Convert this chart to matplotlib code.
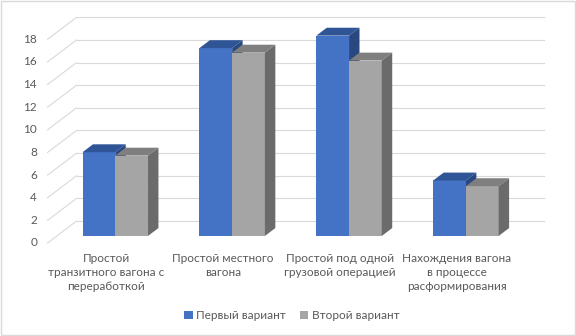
import numpy as np
import matplotlib.pyplot as plt
from matplotlib.patches import Polygon, Rectangle, Patch

categories = ['Простой\nтранзитного вагона с\nпереработкой',
              'Простой местного\nвагона',
              'Простой под одной\nгрузовой операцией',
              'Нахождения вагона\nв процессе\nрасформирования']
first = [7.4, 16.6, 17.7, 4.9]
second = [7.1, 16.2, 15.5, 4.4]
series_names = ['Первый вариант', 'Второй вариант']
yticks = np.arange(0, 20, 2)

# oblique projection of the depth axis, in category / value units
DX, DY = 0.248, 1.94
BAR_POS = 0.32     # depth where the bars stand (fraction of floor depth)
BAR_DEPTH = 0.36   # bar thickness (fraction of floor depth)
BAR_W = 0.28

BLUE = ('#4472C4', '#2F5597', '#28487F')   # front, top, side
GRAY = ('#A5A5A5', '#7F7F7F', '#6B6B6B')
TXT = '#595959'
GRID = '#D9D9D9'

plt.rcParams['font.family'] = ['Lato', 'DejaVu Sans']


def bar3d(ax, x0, h, colors, z):
    front, top, side = colors
    bx = x0 + BAR_POS * DX
    by = BAR_POS * DY
    ddx, ddy = BAR_DEPTH * DX, BAR_DEPTH * DY
    ax.bar(bx, h, width=BAR_W, bottom=by, align='edge', color=front,
           linewidth=0, zorder=z)
    ax.add_patch(Polygon([(bx, by + h), (bx + BAR_W, by + h),
                          (bx + BAR_W + ddx, by + h + ddy), (bx + ddx, by + h + ddy)],
                         closed=True, facecolor=top, linewidth=0, zorder=z))
    ax.add_patch(Polygon([(bx + BAR_W, by), (bx + BAR_W + ddx, by + ddy),
                          (bx + BAR_W + ddx, by + h + ddy), (bx + BAR_W, by + h)],
                         closed=True, facecolor=side, linewidth=0, zorder=z))


fig = plt.figure(figsize=(5.76, 3.36), dpi=100)
ax = fig.add_axes([0, 0, 1, 1])
ax.set_xlim(-0.907, 4.021)
ax.set_ylim(-8.22, 21.47)
ax.axis('off')

# walls: side-wall diagonals and back-wall gridlines
left, right = -0.5, 3.5
for v in yticks:
    ax.plot([left, left + DX], [v, v + DY], color=GRID, lw=0.8, zorder=1)
    ax.plot([left + DX, right + DX], [v + DY, v + DY], color=GRID, lw=0.8, zorder=1)
    ax.text(left - 0.09, v, str(v), ha='right', va='center', fontsize=8.5, color=TXT)

x = np.arange(len(categories))
for i in x:
    bar3d(ax, i - BAR_W, first[i], BLUE, 3 + 2 * i)
    bar3d(ax, i, second[i], GRAY, 4 + 2 * i)
    ax.text(i, -0.9, categories[i], ha='center', va='top', fontsize=8.5,
            color=TXT, linespacing=1.35)

handles = [Patch(facecolor=BLUE[0]), Patch(facecolor=GRAY[0])]
fig.legend(handles, series_names, loc='center', bbox_to_anchor=(0.507, 0.06),
           ncol=2, frameon=False, fontsize=8.5, labelcolor=TXT,
           handlelength=0.7, handleheight=0.7, handletextpad=0.3, columnspacing=1.2)

fig.patches.append(Rectangle((0.001, 0.002), 0.997, 0.995, transform=fig.transFigure,
                             fill=False, edgecolor=GRID, lw=1))

fig.savefig('out.png', dpi=100)
